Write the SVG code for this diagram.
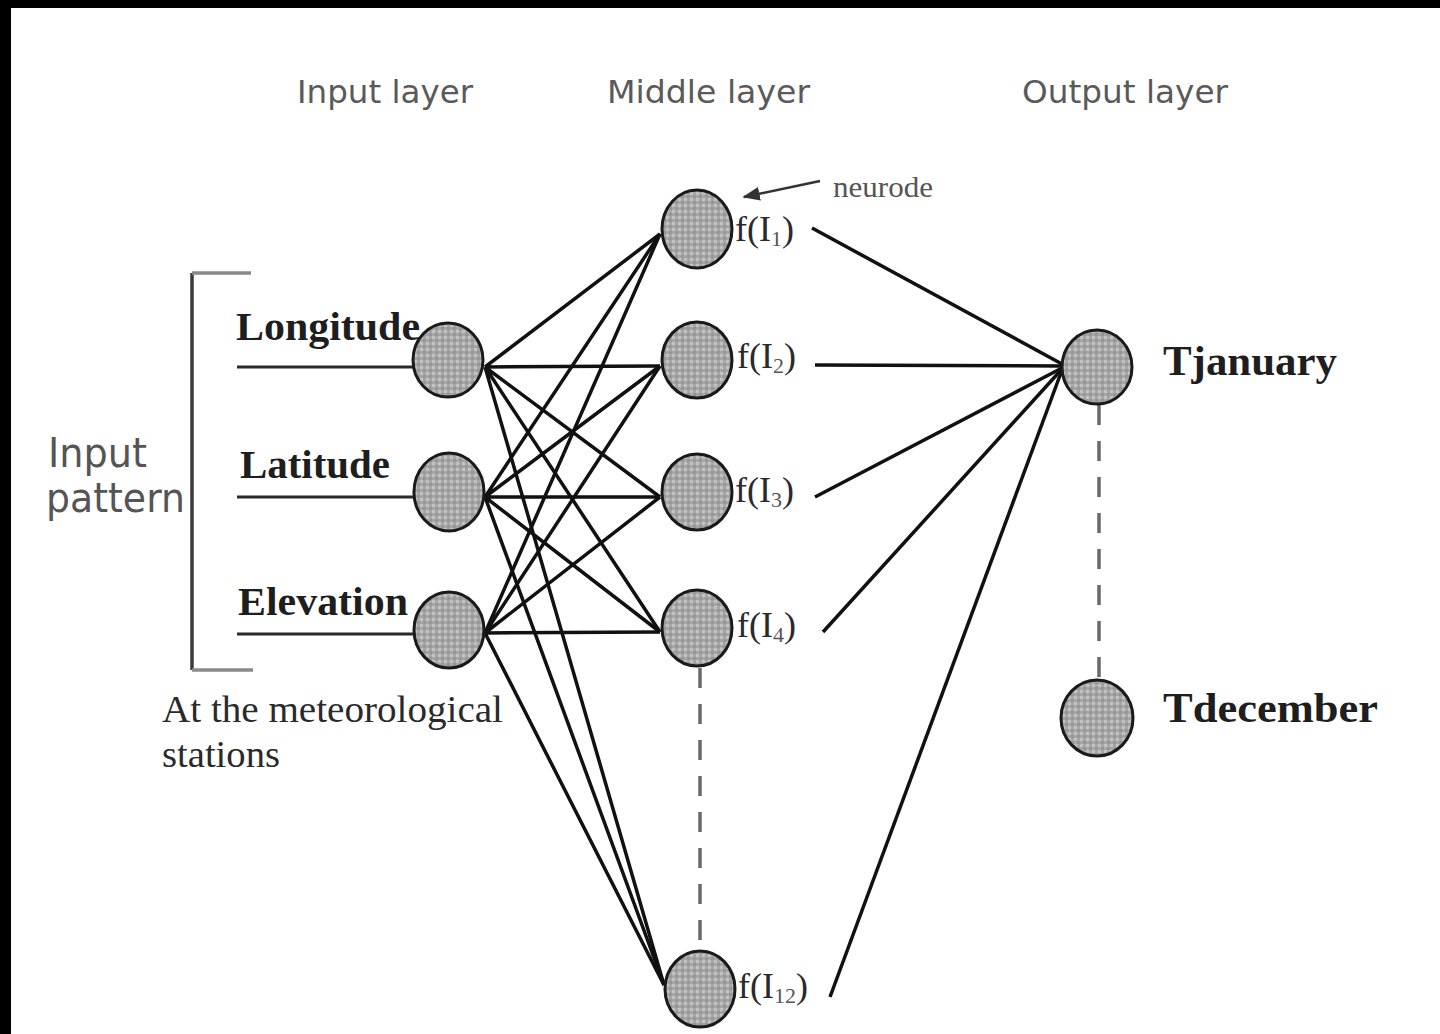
<svg xmlns="http://www.w3.org/2000/svg" width="1440" height="1034" viewBox="0 0 1440 1034">
  <defs>
    <pattern id="mesh" width="6" height="6" patternUnits="userSpaceOnUse">
      <rect width="6" height="6" fill="#a6a6a6"/>
      <rect width="3" height="3" fill="#c2c2c2"/>
      <rect x="3" y="3" width="3" height="3" fill="#979797"/>
    </pattern>
    <marker id="tip" viewBox="0 0 10 10" refX="9" refY="5" markerWidth="7" markerHeight="7" orient="auto">
      <path d="M0,1 L10,5 L0,9 z" fill="#333"/>
    </marker>
    <style>
      .node { fill: url(#mesh); stroke: #1a1a1a; stroke-width: 3; }
      .layer { font-family: "DejaVu Sans", "Liberation Sans", sans-serif; font-size: 32px; fill: #5a5a5a; }
      .side { font-family: "DejaVu Sans", "Liberation Sans", sans-serif; font-size: 40px; fill: #555; }
      .inlabel { font-family: "Liberation Serif", serif; font-weight: bold; font-size: 41px; fill: #1e1e1e; }
      .outlabel { font-family: "Liberation Serif", serif; font-weight: bold; font-size: 43px; fill: #1e1e1e; }
      .fn { font-family: "Liberation Serif", serif; font-size: 36px; fill: #2a2a2a; }
      .sub { font-size: 22px; fill: #555; }
      .note { font-family: "Liberation Serif", serif; font-size: 38px; fill: #2a2a2a; }
      .small { font-family: "Liberation Serif", serif; font-size: 30px; fill: #555; }
      .edge { stroke: #111; stroke-width: 3.5; fill: none; }
      .feed { stroke: #2a2a2a; stroke-width: 3; fill: none; }
      .dash { stroke: #6a6a6a; stroke-width: 3.5; stroke-dasharray: 20 16; fill: none; }
      .brace { stroke: #3a3a3a; stroke-width: 3.5; fill: none; }
      .brace-end { stroke: #8a8a8a; stroke-width: 3.5; fill: none; }
    </style>
  </defs>

  <rect width="1440" height="1034" fill="#ffffff"/>
  <!-- dark frame strips on the left and top edges -->
  <rect x="0" y="0" width="11" height="1034" fill="#000"/>
  <rect x="0" y="0" width="1440" height="8" fill="#000"/>

  <!-- layer headings -->
  <text class="layer" x="297" y="103" textLength="176" lengthAdjust="spacingAndGlyphs">Input layer</text>
  <text class="layer" x="607" y="103" textLength="203" lengthAdjust="spacingAndGlyphs">Middle layer</text>
  <text class="layer" x="1022" y="103" textLength="206" lengthAdjust="spacingAndGlyphs">Output layer</text>

  <!-- input pattern bracket -->
  <g id="input-pattern">
    <path class="brace" d="M192,273 V670"/>
    <path class="brace-end" d="M192,273 H251 M192,670 H253"/>
    <text class="side" x="48" y="467" textLength="99" lengthAdjust="spacingAndGlyphs">Input</text>
    <text class="side" x="46" y="512" textLength="139" lengthAdjust="spacingAndGlyphs">pattern</text>
    <text class="note" x="162" y="722" textLength="341" lengthAdjust="spacingAndGlyphs">At the meteorological</text>
    <text class="note" x="162" y="767" textLength="118" lengthAdjust="spacingAndGlyphs">stations</text>
  </g>

  <!-- connectors -->
  <g id="connectors">
    <!-- feeds into the input neurons -->
    <path class="feed" d="M237,367 H430"/>
    <path class="feed" d="M237,497 H430"/>
    <path class="feed" d="M237,634 H430"/>

    <!-- input to middle layer -->
    <path class="edge" d="M485,367 L660,234 M485,367 L660,366 M485,367 L660,497 M485,367 L660,632 M485,367 L664,985"/>
    <path class="edge" d="M485,497 L660,234 M485,497 L660,366 M485,497 L660,497 M485,497 L660,632 M485,497 L664,985"/>
    <path class="edge" d="M485,633 L660,234 M485,633 L660,366 M485,633 L660,497 M485,633 L660,632 M485,633 L664,985"/>

    <!-- middle layer to output -->
    <path class="edge" d="M812,228 L1062,364"/>
    <path class="edge" d="M815,365 L1062,366"/>
    <path class="edge" d="M815,497 L1062,368"/>
    <path class="edge" d="M823,632 L1062,369"/>
    <path class="edge" d="M830,997 L1062,370"/>

    <!-- omitted neurons -->
    <path class="dash" d="M700,668 V950"/>
    <path class="dash" d="M1099,405 V682"/>

    <!-- neurode pointer -->
    <path d="M820,181 L744,197" stroke="#333" stroke-width="2.5" fill="none" marker-end="url(#tip)"/>
  </g>

  <!-- input layer -->
  <g id="in-longitude">
    <ellipse class="node" cx="448" cy="360" rx="35" ry="37"/>
    <text class="inlabel" x="236" y="340" textLength="184" lengthAdjust="spacingAndGlyphs">Longitude</text>
  </g>
  <g id="in-latitude">
    <ellipse class="node" cx="449" cy="492" rx="35" ry="39"/>
    <text class="inlabel" x="240" y="478" textLength="150" lengthAdjust="spacingAndGlyphs">Latitude</text>
  </g>
  <g id="in-elevation">
    <ellipse class="node" cx="449" cy="630" rx="35" ry="38"/>
    <text class="inlabel" x="238" y="615" textLength="170" lengthAdjust="spacingAndGlyphs">Elevation</text>
  </g>

  <!-- middle layer -->
  <g id="mid-1">
    <ellipse class="node" cx="697" cy="229" rx="35" ry="39"/>
    <text class="fn" x="735" y="241">f(I<tspan class="sub" dy="5">1</tspan><tspan dy="-5">)</tspan></text>
    <text class="small" x="833" y="197" textLength="100" lengthAdjust="spacingAndGlyphs">neurode</text>
  </g>
  <g id="mid-2">
    <ellipse class="node" cx="697" cy="360" rx="35" ry="38"/>
    <text class="fn" x="737" y="368">f(I<tspan class="sub" dy="5">2</tspan><tspan dy="-5">)</tspan></text>
  </g>
  <g id="mid-3">
    <ellipse class="node" cx="697" cy="492" rx="35" ry="38"/>
    <text class="fn" x="735" y="502">f(I<tspan class="sub" dy="5">3</tspan><tspan dy="-5">)</tspan></text>
  </g>
  <g id="mid-4">
    <ellipse class="node" cx="697" cy="628" rx="35" ry="38"/>
    <text class="fn" x="737" y="637">f(I<tspan class="sub" dy="5">4</tspan><tspan dy="-5">)</tspan></text>
  </g>
  <g id="mid-12">
    <ellipse class="node" cx="700" cy="989" rx="35" ry="38"/>
    <text class="fn" x="738" y="998">f(I<tspan class="sub" dy="5">12</tspan><tspan dy="-5">)</tspan></text>
  </g>

  <!-- output layer -->
  <g id="out-january">
    <ellipse class="node" cx="1097" cy="367" rx="35" ry="37"/>
    <text class="outlabel" x="1163" y="375" textLength="174" lengthAdjust="spacingAndGlyphs">Tjanuary</text>
  </g>
  <g id="out-december">
    <ellipse class="node" cx="1097" cy="718" rx="36" ry="38"/>
    <text class="outlabel" x="1163" y="722" textLength="215" lengthAdjust="spacingAndGlyphs">Tdecember</text>
  </g>
</svg>
